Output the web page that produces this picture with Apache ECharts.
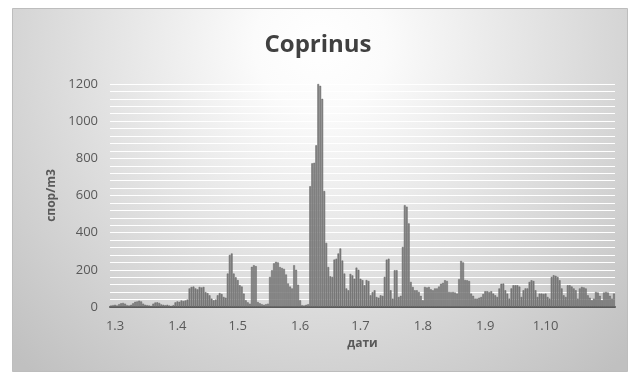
<!DOCTYPE html>
<html>
<head>
<meta charset="utf-8">
<script src="https://cdn.jsdelivr.net/npm/echarts@6/dist/echarts.min.js"></script>
<style>
  html, body { margin: 0; padding: 0; background: #ffffff; }
  #chart { width: 636px; height: 379px; }
</style>
</head>
<body>
<div id="chart"></div>
<script>
// Daily Coprinus spore concentration, 27 Feb – 4 Nov
const startDay = { day: 27, month: 2 };
const dayCount = 251;

// Month-start dates that carry an axis label
const tickLabels = ['1.3', '1.4', '1.5', '1.6', '1.7', '1.8', '1.9', '1.10'];

// Spores per m3, one value per day
const spores = [
  8, 10, 12, 8, 15, 20, 22, 18, 10, 8,
  12, 20, 28, 30, 34, 30, 18, 12, 10, 8,
  6, 18, 24, 25, 22, 14, 12, 10, 12, 8,
  6, 10, 25, 30, 28, 35, 32, 35, 40, 100,
  108, 110, 100, 95, 108, 105, 108, 80, 75, 63,
  45, 36, 40, 63, 75, 70, 54, 50, 180, 280,
  288, 180, 160, 145, 117, 110, 72, 36, 25, 18,
  216, 225, 220, 27, 20, 15, 12, 15, 18, 162,
  198, 235, 243, 240, 215, 210, 205, 175, 127, 110,
  100, 225, 200, 120, 36, 10, 8, 12, 15, 650,
  773, 776, 870, 1200, 1190, 1120, 624, 345, 215, 165,
  162, 255, 260, 288, 315, 250, 180, 100, 90, 178,
  170, 152, 212, 200, 152, 145, 117, 145, 140, 63,
  80, 90, 54, 50, 63, 60, 162, 255, 260, 90,
  45, 198, 198, 54, 60, 323, 548, 540, 450, 135,
  108, 90, 90, 81, 60, 36, 108, 105, 108, 95,
  90, 100, 100, 110, 125, 130, 144, 140, 81, 80,
  81, 78, 72, 150, 248, 240, 145, 144, 140, 72,
  60, 45, 45, 50, 54, 70, 85, 85, 80, 85,
  72, 63, 54, 100, 125, 126, 90, 72, 45, 100,
  117, 117, 117, 110, 54, 90, 100, 100, 135, 144,
  140, 90, 54, 72, 72, 70, 72, 54, 45, 162,
  171, 168, 162, 144, 100, 63, 54, 117, 117, 110,
  100, 90, 45, 100, 108, 105, 100, 63, 50, 36,
  45, 81, 78, 60, 36, 78, 81, 78, 60, 45,
  72
];

// Build "d.m" date labels for each day of the season
const dates = [];
{
  const d = new Date(2019, startDay.month - 1, startDay.day);
  for (let i = 0; i < dayCount; i++) {
    dates.push(d.getDate() + '.' + (d.getMonth() + 1));
    d.setDate(d.getDate() + 1);
  }
}

const textColor = '#595959';
const font = '"Open Sans", "Noto Sans", sans-serif';

const chart = echarts.init(document.getElementById('chart'), null, { renderer: 'canvas' });

chart.setOption({
  animation: false,
  backgroundColor: '#ffffff',
  graphic: [{
    type: 'rect',
    z: -10,
    silent: true,
    shape: { x: 12.5, y: 8.5, width: 615, height: 363 },
    style: {
      fill: {
        type: 'radial', x: 0.5, y: 0.1, r: 1.2,
        colorStops: [
          { offset: 0, color: '#ffffff' },
          { offset: 0.15, color: '#fbfbfb' },
          { offset: 1, color: '#c0c0c0' }
        ]
      },
      stroke: '#bdbdbd',
      lineWidth: 1
    }
  }],
  title: {
    text: 'Coprinus',
    left: 'center',
    top: 28,
    textStyle: { fontFamily: font, fontSize: 24, fontWeight: 'bold', color: '#404040' }
  },
  grid: { left: 110, right: 21, top: 84, bottom: 72, containLabel: false },
  xAxis: {
    type: 'category',
    data: dates,
    name: 'дати',
    nameLocation: 'middle',
    nameGap: 30,
    nameTextStyle: { fontFamily: font, fontSize: 12, fontWeight: 'bold', color: textColor },
    axisLine: { show: true, lineStyle: { color: '#5a5a5a', width: 2 } },
    axisTick: { show: false },
    splitLine: { show: false },
    axisLabel: {
      interval: (idx, val) => tickLabels.includes(val),
      fontFamily: font,
      fontSize: 13,
      color: textColor,
      margin: 13
    }
  },
  yAxis: {
    type: 'value',
    min: 0,
    max: 1200,
    interval: 200,
    name: 'спор/m3',
    nameLocation: 'middle',
    nameGap: 52,
    nameRotate: 90,
    nameTextStyle: { fontFamily: font, fontSize: 12, fontWeight: 'bold', color: textColor },
    axisLine: { show: false },
    axisTick: { show: false },
    axisLabel: {
      fontFamily: font, fontSize: 13, color: textColor, margin: 12,
      formatter: (v) => String(v)
    },
    splitLine: { show: true, lineStyle: { color: '#ffffff', width: 1.2 } },
    minorTick: { show: false, splitNumber: 5 },
    minorSplitLine: { show: true, lineStyle: { color: '#ffffff', width: 1.2 } }
  },
  series: [{
    type: 'bar',
    data: spores,
    barCategoryGap: '10%',
    itemStyle: { color: '#808080', borderColor: '#666666', borderWidth: 0.5 }
  }]
});
</script>
</body>
</html>
